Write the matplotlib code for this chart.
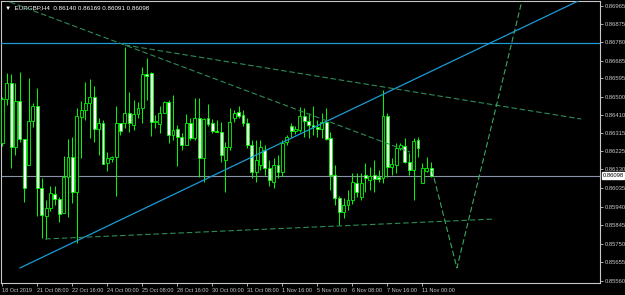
import matplotlib
matplotlib.use("Agg")
import matplotlib.pyplot as plt

# EURGBP H4 candles, 18 Oct 2019 00:00 .. 11 Nov 2019 08:00 (bar index 0..98)
opens = [0.86265, 0.86490, 0.86572, 0.86245, 0.86480, 0.86286, 0.86153, 0.86378, 0.86454, 0.86035,
         0.85892, 0.85933, 0.86005, 0.85979, 0.85908, 0.86092, 0.86194, 0.86015, 0.86398, 0.86434,
         0.86470, 0.86500, 0.86337, 0.86367, 0.86163, 0.86184, 0.86194, 0.86367, 0.86367, 0.86419,
         0.86357, 0.86413, 0.86444, 0.86618, 0.86623, 0.86373, 0.86362, 0.86419, 0.86475, 0.86306,
         0.86337, 0.86296, 0.86255, 0.86367, 0.86291, 0.86393, 0.86189, 0.86393, 0.86367, 0.86327,
         0.86321, 0.86178, 0.86245, 0.86393, 0.86424, 0.86408, 0.86367, 0.86255, 0.86117, 0.86153,
         0.86229, 0.86138, 0.86066, 0.86153, 0.86117, 0.86270, 0.86352, 0.86327, 0.86332, 0.86403,
         0.86378, 0.86357, 0.86347, 0.86337, 0.86373, 0.86291, 0.86102, 0.85984, 0.85913, 0.85948,
         0.85974, 0.86061, 0.85989, 0.86102, 0.86076, 0.86102, 0.86092, 0.86086, 0.86403, 0.86143,
         0.86153, 0.86240, 0.86250, 0.86168, 0.86127, 0.86281, 0.86061, 0.86122, 0.86140]
highs = [0.86500, 0.86623, 0.86618, 0.86572, 0.86628, 0.86286, 0.86597, 0.86470, 0.86546, 0.86086,
         0.85974, 0.86046, 0.86046, 0.85989, 0.86199, 0.86286, 0.86296, 0.86444, 0.86480, 0.86577,
         0.86592, 0.86557, 0.86393, 0.86383, 0.86219, 0.86199, 0.86454, 0.86367, 0.86756, 0.86526,
         0.86485, 0.86475, 0.86654, 0.86700, 0.86628, 0.86408, 0.86454, 0.86480, 0.86485, 0.86511,
         0.86357, 0.86316, 0.86413, 0.86393, 0.86495, 0.86495, 0.86393, 0.86465, 0.86388, 0.86383,
         0.86373, 0.86270, 0.86444, 0.86434, 0.86454, 0.86434, 0.86393, 0.86281, 0.86281, 0.86281,
         0.86255, 0.86178, 0.86189, 0.86204, 0.86281, 0.86306, 0.86367, 0.86352, 0.86449, 0.86444,
         0.86419, 0.86454, 0.86383, 0.86419, 0.86444, 0.86321, 0.86153, 0.85994, 0.85984, 0.86025,
         0.86112, 0.86112, 0.86112, 0.86163, 0.86143, 0.86178, 0.86127, 0.86536, 0.86419, 0.86189,
         0.86265, 0.86265, 0.86291, 0.86214, 0.86291, 0.86296, 0.86163, 0.86194, 0.86169]
lows = [0.86250, 0.86459, 0.86138, 0.86204, 0.86270, 0.85964, 0.86153, 0.86347, 0.85892, 0.85780,
        0.85775, 0.85918, 0.85948, 0.85862, 0.85908, 0.85887, 0.85959, 0.85754, 0.86189, 0.86383,
        0.86291, 0.86270, 0.86204, 0.86158, 0.86122, 0.86168, 0.85994, 0.86306, 0.86342, 0.86321,
        0.86332, 0.86393, 0.86367, 0.86485, 0.86301, 0.86342, 0.86316, 0.86419, 0.86265, 0.86281,
        0.86148, 0.86229, 0.86255, 0.86281, 0.86281, 0.86092, 0.86066, 0.86352, 0.86316, 0.86321,
        0.86168, 0.86015, 0.86229, 0.86373, 0.86393, 0.86352, 0.86240, 0.86086, 0.86066, 0.86127,
        0.86102, 0.86046, 0.86035, 0.86086, 0.86097, 0.86255, 0.86296, 0.86311, 0.86321, 0.86296,
        0.86291, 0.86306, 0.86296, 0.86291, 0.86281, 0.86025, 0.85948, 0.85846, 0.85882, 0.85923,
        0.85954, 0.85989, 0.85974, 0.86015, 0.86025, 0.86015, 0.86066, 0.86061, 0.86092, 0.86102,
        0.86112, 0.86229, 0.86163, 0.86102, 0.85974, 0.86194, 0.86061, 0.86117, 0.86091]
closes = [0.86490, 0.86572, 0.86245, 0.86480, 0.86286, 0.86035, 0.86378, 0.86454, 0.86035, 0.85897,
          0.85933, 0.86010, 0.85979, 0.85902, 0.86092, 0.86194, 0.86015, 0.86403, 0.86434, 0.86470,
          0.86500, 0.86337, 0.86367, 0.86158, 0.86189, 0.86194, 0.86367, 0.86327, 0.86419, 0.86367,
          0.86413, 0.86444, 0.86618, 0.86608, 0.86373, 0.86378, 0.86419, 0.86475, 0.86306, 0.86332,
          0.86296, 0.86255, 0.86367, 0.86291, 0.86393, 0.86189, 0.86388, 0.86362, 0.86327, 0.86321,
          0.86204, 0.86245, 0.86373, 0.86419, 0.86403, 0.86367, 0.86255, 0.86117, 0.86178, 0.86245,
          0.86138, 0.86076, 0.86153, 0.86117, 0.86265, 0.86296, 0.86327, 0.86337, 0.86403, 0.86378,
          0.86357, 0.86347, 0.86337, 0.86373, 0.86286, 0.86102, 0.85984, 0.85913, 0.85948, 0.85974,
          0.86066, 0.86015, 0.86061, 0.86086, 0.86097, 0.86081, 0.86081, 0.86403, 0.86143, 0.86158,
          0.86240, 0.86255, 0.86168, 0.86127, 0.86275, 0.86240, 0.86138, 0.86138, 0.86098]

# objects drawn on the chart: (bar index, price) anchors
hline_blue = 0.86778
bid = 0.86098
trend_blue = ([4.05, 131.6], [0.85627, 0.86991])
fan_steep = ([-1.0, 93.2], [0.87009, 0.86219])
fan_upper = ([28.0, 132.3], [0.86766, 0.86388])
fan_lower = ([9.8, 112.6], [0.85775, 0.85877])
forecast = ([98.2, 103.9, 118.8], [0.86127, 0.85627, 0.86996])

price_ticks = [0.86965, 0.86875, 0.86780, 0.86685, 0.86595, 0.86500, 0.86410, 0.86315,
               0.86225, 0.86130, 0.86035, 0.85940, 0.85845, 0.85750, 0.85655, 0.85560]
date_pos = [0, 8, 16, 24, 32, 40, 48, 56, 64, 72, 80, 88, 96]
date_labels = ['18 Oct 2019', '21 Oct 08:00', '22 Oct 16:00', '24 Oct 00:00', '25 Oct 08:00',
               '28 Oct 16:00', '30 Oct 00:00', '31 Oct 08:00', '1 Nov 16:00', '5 Nov 00:00',
               '6 Nov 08:00', '7 Nov 16:00', '11 Nov 00:00']

GREEN = '#00ff00'
BLUE = '#1c9bd6'
DASH = '#2e8b57'
FG = '#c8c8c8'
font = ['Liberation Sans', 'DejaVu Sans']

fig = plt.figure(figsize=(6.25, 2.95), dpi=100, facecolor='black')
ax = fig.add_axes([1 / 625, 12 / 295, 599 / 625, 282 / 295], facecolor='black')

x = list(range(len(closes)))
ax.vlines(x, lows, highs, color=GREEN, lw=0.7, zorder=2)
for i in x:
    o, c = opens[i], closes[i]
    face = 'black' if c >= o else 'white'
    lo, hi = min(o, c), max(o, c)
    ax.bar(i, max(hi - lo, 0.000005), bottom=lo, width=0.66, color=face,
           edgecolor=GREEN, lw=0.6, zorder=3)

ax.axhline(hline_blue, color=BLUE, lw=0.9, zorder=4)
ax.axhline(bid, color='#8a94a6', lw=0.8, zorder=1)
ax.plot(*trend_blue, color=BLUE, lw=0.9, zorder=4)
for pts in (fan_steep, fan_upper, fan_lower):
    ax.plot(*pts, color=DASH, lw=0.8, dashes=(5, 2.5), zorder=4)
ax.plot(*forecast, color='#3aa860', lw=0.8, dashes=(5, 2.5), zorder=4)

ax.set_xlim(-0.3, 136.6)
ax.set_ylim(0.85550, 0.86991)

for s in ax.spines.values():
    s.set_color(FG)
    s.set_linewidth(0.8)

ax.yaxis.tick_right()
ax.set_yticks(price_ticks)
ax.set_yticklabels([f'{p:.5f}' for p in price_ticks], fontsize=4.2, color=FG, family=font)
ax.tick_params(axis='y', length=2, width=0.6, color=FG, pad=1.2)
ax.set_xticks(date_pos)
ax.set_xticklabels(date_labels, fontsize=4.0, color=FG, family=font, ha='left')
ax.tick_params(axis='x', length=2, width=0.6, color=FG, pad=1.5)

# current price tag
ax.text(1.004, bid, f'{bid:.5f}', transform=ax.get_yaxis_transform(), fontsize=4.2,
        family=font, color='black', va='center', ha='left',
        bbox=dict(facecolor='white', edgecolor='white', pad=0.6))

ax.text(0.006, 0.985, '\u25bc  EURGBP,H4  0.86140 0.86169 0.86091 0.86098', transform=ax.transAxes,
        fontsize=4.5, family=font, color='white', va='top', ha='left')

fig.savefig('out.png', dpi=100, facecolor='black')
